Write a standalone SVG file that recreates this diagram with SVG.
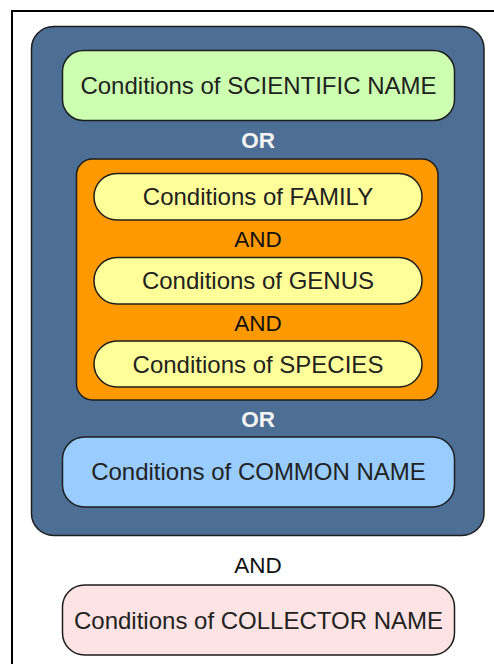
<svg xmlns="http://www.w3.org/2000/svg" width="494" height="664" viewBox="0 0 494 664">
<style>
.box{stroke:#1e1e1e;stroke-width:1.5}
.t{font-family:"Liberation Sans",Arial,sans-serif;font-size:24px;fill:#222;text-anchor:middle}
.or{font-family:"Liberation Sans",Arial,sans-serif;font-size:22.5px;font-weight:bold;fill:#f4f4f4;text-anchor:middle}
.and{font-family:"Liberation Sans",Arial,sans-serif;font-size:22.5px;fill:#111;text-anchor:middle}
</style>
<rect x="0" y="0" width="494" height="664" fill="#fff"/>
<rect id="frame" x="12" y="11" width="500" height="700" fill="#fff" stroke="#000" stroke-width="2"/>
<g id="name-group">
<rect class="box" x="31.5" y="26.5" width="452.5" height="509" rx="22" fill="#4d6e95"/>
</g>
<g id="scientific-name">
<rect class="box" x="62.5" y="50.5" width="392" height="70" rx="21" fill="#ccffb0"/>
<text class="t" x="258.5" y="93.5">Conditions of SCIENTIFIC NAME</text>
</g>
<g id="taxonomy-group">
<rect class="box" x="76.5" y="159" width="361.5" height="241" rx="16" fill="#ff9900"/>
</g>
<g id="family">
<rect class="box" x="94" y="173.5" width="328" height="46.5" rx="23" fill="#ffff99"/>
<text class="t" x="258" y="205">Conditions of FAMILY</text>
</g>
<g id="genus">
<rect class="box" x="94" y="257.5" width="328" height="46.5" rx="23" fill="#ffff99"/>
<text class="t" x="258" y="289">Conditions of GENUS</text>
</g>
<g id="species">
<rect class="box" x="94" y="341" width="328" height="46" rx="23" fill="#ffff99"/>
<text class="t" x="258" y="372.5">Conditions of SPECIES</text>
</g>
<g id="common-name">
<rect class="box" x="62.5" y="437" width="392" height="70" rx="22" fill="#99ccff"/>
<text class="t" x="258.5" y="479.5">Conditions of COMMON NAME</text>
</g>
<g id="collector-name">
<rect class="box" x="62.5" y="585" width="392" height="70" rx="22" fill="#fde3e3"/>
<text class="t" x="258.5" y="628.5">Conditions of COLLECTOR NAME</text>
</g>
<g id="operators">
<text class="or" x="258" y="148">OR</text>
<text class="and" x="258" y="246.5">AND</text>
<text class="and" x="258" y="330.5">AND</text>
<text class="or" x="258" y="427">OR</text>
<text class="and" x="258" y="572.5">AND</text>
</g>
</svg>
